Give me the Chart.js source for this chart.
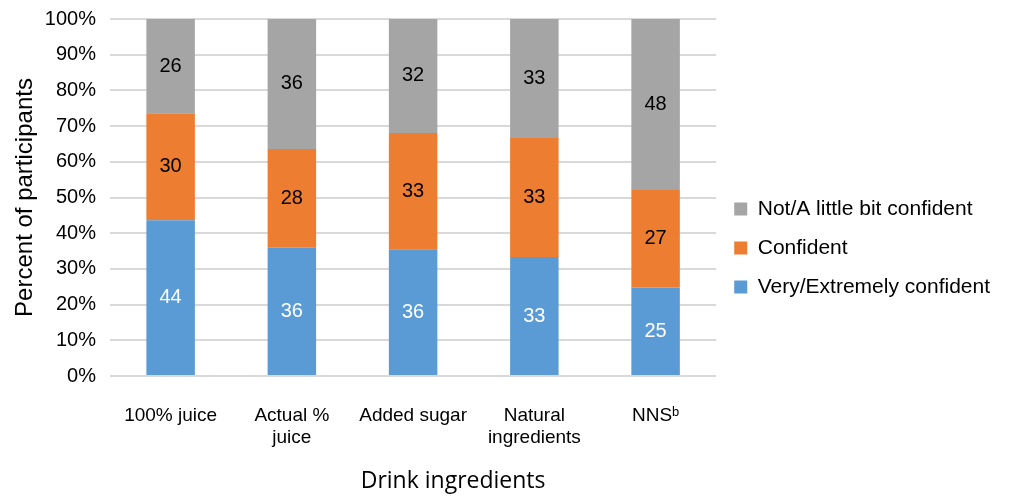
<!DOCTYPE html>
<html>
<head>
<meta charset="utf-8">
<script src="https://cdn.jsdelivr.net/npm/chart.js@4/dist/chart.umd.min.js"></script>
<style>
  html, body { margin: 0; padding: 0; background: #fff; }
  #wrap { width: 1011px; height: 496px; }
</style>
</head>
<body>
<div id="wrap"><canvas id="confChart"></canvas></div>
<script>
const categories = ["100% juice", ["Actual %", "juice"], "Added sugar", ["Natural", "ingredients"], "NNS\u1D47"];
const veryConfident = [43.6, 35.9, 35.5, 33.3, 24.8];
const confident = [30.0, 27.7, 32.6, 33.4, 27.3];
const notConfident = [26.4, 36.4, 31.9, 33.3, 47.9];
const yTicks = [0, 10, 20, 30, 40, 50, 60, 70, 80, 90, 100];
const xTitle = "Drink ingredients";

const mainFont = "'Liberation Sans', Arial, sans-serif";

// draws the rounded value in the middle of each bar segment
const barLabels = {
    id: "barLabels",
    afterDatasetsDraw(chart) {
        const ctx = chart.ctx;
        ctx.save();
        ctx.font = "20px " + mainFont;
        ctx.textAlign = "center";
        ctx.textBaseline = "middle";
        chart.data.datasets.forEach((ds, i) => {
            const meta = chart.getDatasetMeta(i);
            meta.data.forEach((bar, j) => {
                const mid = (bar.y + bar.base) / 2;
                ctx.fillStyle = ds.labelColor;
                ctx.fillText(Math.round(ds.data[j]), bar.x, mid);
            });
        });
        ctx.restore();
    }
};

// x axis title sits a bit right of the plot centre in the original
const xAxisTitle = {
    id: "xAxisTitle",
    afterDraw(chart) {
        const ctx = chart.ctx;
        const area = chart.chartArea;
        ctx.save();
        ctx.font = "23px 'Open Sans', sans-serif";
        ctx.fillStyle = "#000";
        ctx.textAlign = "center";
        ctx.textBaseline = "middle";
        ctx.fillText(xTitle, (area.left + area.right) / 2 + 40, chart.height - 15);
        ctx.restore();
    }
};

const ctx = document.getElementById("confChart");

new Chart(ctx, {
    type: "bar",
    data: {
        labels: categories,
        datasets: [
            {
                label: "Very/Extremely confident",
                data: veryConfident,
                backgroundColor: "#5b9bd5",
                labelColor: "#ffffff",
                categoryPercentage: 1,
                barPercentage: 0.4
            },
            {
                label: "Confident",
                data: confident,
                backgroundColor: "#ed7d31",
                labelColor: "#000000",
                categoryPercentage: 1,
                barPercentage: 0.4
            },
            {
                label: "Not/A little bit confident",
                data: notConfident,
                backgroundColor: "#a5a5a5",
                labelColor: "#000000",
                categoryPercentage: 1,
                barPercentage: 0.4
            }
        ]
    },
    options: {
        responsive: true,
        maintainAspectRatio: false,
        animation: false,
        layout: {
            padding: { top: 13, left: 6, right: 11, bottom: 13 }
        },
        plugins: {
            legend: {
                position: "right",
                reverse: true,
                maxWidth: 400,
                labels: {
                    boxWidth: 13,
                    boxHeight: 13,
                    padding: 18,
                    color: "#000",
                    font: { family: mainFont, size: 21 }
                }
            },
            tooltip: { enabled: false }
        },
        scales: {
            x: {
                stacked: true,
                grid: { display: false, drawTicks: false },
                border: { display: false },
                afterFit(scale) {
                    scale.height = 107;
                    scale.paddingLeft = 0;
                    scale.paddingRight = 0;
                },
                ticks: {
                    color: "#000",
                    padding: 28,
                    maxRotation: 0,
                    font: { family: mainFont, size: 19, lineHeight: 1.2 }
                }
            },
            y: {
                stacked: true,
                min: 0,
                max: 100,
                afterBuildTicks(axis) {
                    axis.ticks = yTicks.map(v => ({ value: v }));
                },
                afterFit(scale) {
                    scale.width = 104;
                    scale.paddingTop = 19;
                    scale.paddingBottom = 0;
                },
                grid: { color: "#d9d9d9", lineWidth: 2, drawTicks: false },
                border: { display: false },
                ticks: {
                    color: "#000",
                    padding: 14,
                    font: { family: mainFont, size: 20 },
                    callback: v => v + "%"
                },
                title: {
                    display: true,
                    text: "Percent of participants",
                    color: "#000",
                    padding: { top: 5, bottom: 0 },
                    font: { family: mainFont, size: 24 }
                }
            }
        }
    },
    plugins: [barLabels, xAxisTitle]
});
</script>
</body>
</html>
